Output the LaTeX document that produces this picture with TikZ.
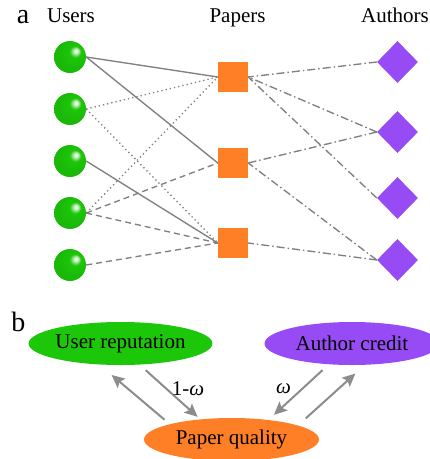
\documentclass[tikz,border=0pt]{standalone}
\usepackage{fontspec}
\setmainfont{Liberation Serif}
\usetikzlibrary{shapes.geometric,arrows.meta}

\definecolor{ballgreen}{RGB}{28,198,8}
\definecolor{paperorange}{RGB}{255,127,39}
\definecolor{authorpurple}{RGB}{150,75,245}
\definecolor{linkgray}{RGB}{128,128,128}
\definecolor{flowgray}{RGB}{140,140,140}

\pgfdeclareradialshading{userball}{\pgfqpoint{10bp}{10bp}}{%
  color(0bp)=(white); color(2.5bp)=(white!85!ballgreen);
  color(9bp)=(ballgreen); color(25bp)=(ballgreen!93!black);
  color(50bp)=(ballgreen!93!black)}

\begin{document}
\begin{tikzpicture}[x=1pt, y=-1pt,
    every node/.style={font=\fontsize{21}{25}\selectfont, inner sep=0pt},
    user/.style   = {circle, shade, shading=userball, minimum size=32pt},
    paper/.style  = {rectangle, fill=paperorange, minimum size=30pt},
    author/.style = {diamond, fill=authorpurple, minimum width=41pt, minimum height=42pt},
    head/.style   = {anchor=base},
    tag/.style    = {anchor=base, font=\fontsize{28}{32}\selectfont},
    rank/.style   = {ellipse, minimum width=175pt, minimum height=43pt},
    link/.style     = {draw=linkgray, line width=1.35pt},
    solidlink/.style = {link},
    dotlink/.style   = {link, dash pattern=on 1.3pt off 3pt},
    dashlink/.style  = {link, dash pattern=on 6pt off 4pt},
    authlink/.style  = {link, dash pattern=on 8pt off 3pt on 1.5pt off 3pt},
    flow/.style = {draw=flowgray, line width=2pt,
                   -{Stealth[length=13pt, width=12pt, inset=2.5pt]}},
  ]
  \useasboundingbox (0,0) rectangle (430,459);
  \clip (0,0) rectangle (430,459);

  % panel a
  \node[tag]  (taga)  at (23,23)    {a};
  \node[head] (husers) at (71,22.7)  {Users};
  \node[head] (hpapers) at (237.5,22.7) {Papers};
  \node[head] (hauthors) at (395,22.7) {Authors};

  \node[user] (u1) at (70,57)  {};
  \node[user] (u2) at (70,109) {};
  \node[user] (u3) at (70,161) {};
  \node[user] (u4) at (70,213) {};
  \node[user] (u5) at (70,265) {};

  \node[paper] (p1) at (233,77)  {};
  \node[paper] (p2) at (233,163) {};
  \node[paper] (p3) at (233,243) {};

  \node[author] (a1) at (397.5,62)  {};
  \node[author] (a2) at (397.5,132) {};
  \node[author] (a3) at (397.5,198) {};
  \node[author] (a4) at (397.5,260) {};

  \draw[solidlink] (u1.east) -- (p1.west);
  \draw[solidlink] (u1.east) -- (p2.west);
  \draw[solidlink] (u3.east) -- (p3.west);
  \draw[dotlink]   (u2.east) -- (p1.west);
  \draw[dotlink]   (u2.east) -- (p3.west);
  \draw[dotlink]   (u4.east) -- (p1.west);
  \draw[dashlink]  (u4.east) -- (p2.west);
  \draw[dashlink]  (u4.east) -- (p3.west);
  \draw[dashlink]  (u5.east) -- (p3.west);

  \draw[authlink] (a1.west) -- (p1.east);
  \draw[authlink] (a2.west) -- (p1.east);
  \draw[authlink] (a3.west) -- (p1.east);
  \draw[authlink] (a2.west) -- (p2.east);
  \draw[authlink] (a4.west) -- (p2.east);
  \draw[authlink] (a4.west) -- (p3.east);

  % panel b
  \node[tag] (tagb) at (18.5,331.7) {b};
  \node[rank, fill=ballgreen]    (ur) at (120.5,343.5) {User reputation};
  \node[rank, fill=authorpurple] (ac) at (352,343.5)   {Author credit};
  \node[rank, fill=paperorange]  (pq) at (231.5,439.5) {Paper quality};

  \draw[flow, shorten <=6.8pt, shorten >=16pt]   (pq.166.7) -- (ur.225.6);
  \draw[flow, shorten <=8.2pt, shorten >=3.6pt]  (ur.-48.8) -- (pq.147.7);
  \draw[flow, shorten <=8.5pt, shorten >=7.4pt]  (ac.222.6) -- (pq.28.5);
  \draw[flow, shorten <=10.4pt, shorten >=12.8pt] (pq.12.2) -- (ac.-59.5);

  \node (w1) at (188,389)   {1-\textit{ω}};
  \node (w2) at (283.5,389) {\textit{ω}};
\end{tikzpicture}
\end{document}
